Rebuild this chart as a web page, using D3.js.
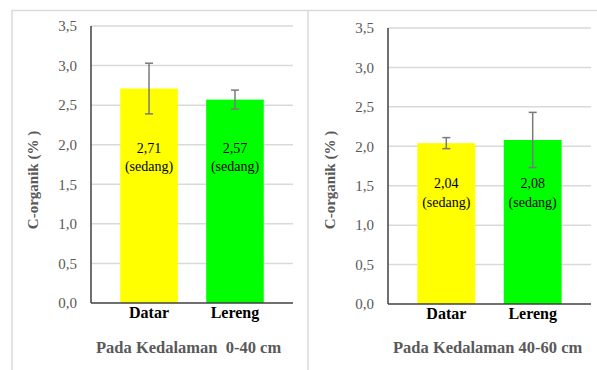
<!DOCTYPE html>
<html>
<head>
<meta charset="utf-8">
<script src="https://cdn.jsdelivr.net/npm/d3@7"></script>
<style>
  body { margin: 0; background: #fff; }
  svg { display: block; }
  svg text { font-family: "Liberation Serif", "Times New Roman", serif; }
</style>
</head>
<body>
<svg width="597" height="370"></svg>
<script>
// data
const categories = ["Datar", "Lereng"];
const values0to40 = [2.71, 2.57];
const errors0to40 = [0.32, 0.12];
const values40to60 = [2.04, 2.08];
const errors40to60 = [0.07, 0.35];
const classes = ["sedang", "sedang"];
const barColors = ["#ffff00", "#00ff00"];
const yTicks = [0, 0.5, 1, 1.5, 2, 2.5, 3, 3.5];
const yTitle = "C-organik (% )";
const panelTitles = ["Pada Kedalaman  0-40 cm", "Pada Kedalaman 40-60 cm"];

const svg = d3.select("svg");
const fmt = d => d3.format(".1f")(d).replace(".", ",");
const fmt2 = d => d3.format(".2f")(d).replace(".", ",");

// panel frame lines
svg.append("path")
  .attr("d", "M12,370V10.5H597M308,10.5V370")
  .attr("fill", "none")
  .attr("stroke", "#dadada")
  .attr("stroke-width", 1.5);

const panels = [
  { x0: 91, x1: 293, top: 26, bottom: 303, values: values0to40, errors: errors0to40, title: panelTitles[0], labelAt: 1.96, off: 0 },
  { x0: 388, x1: 591, top: 28, bottom: 304, values: values40to60, errors: errors40to60, title: panelTitles[1], labelAt: 1.53, off: 297 }
];

panels.forEach(p => {
  const g = svg.append("g");

  const x = d3.scaleBand()
    .domain(categories)
    .range([p.x0, p.x1])
    .paddingInner(0.33)
    .paddingOuter(0.34);

  const y = d3.scaleLinear()
    .domain([0, 3.5])
    .range([p.bottom, p.top]);

  // gridlines
  g.append("g")
    .selectAll("line")
    .data(yTicks.filter(d => d > 0))
    .join("line")
    .attr("x1", p.x0).attr("x2", p.x1)
    .attr("y1", d => y(d)).attr("y2", d => y(d))
    .attr("stroke", "#d9d9d9")
    .attr("stroke-width", 1.5);

  // y axis
  const yAxis = g.append("g")
    .attr("transform", `translate(${p.x0},0)`)
    .call(d3.axisLeft(y).tickValues(yTicks).tickFormat(fmt).tickSize(0).tickPadding(14));
  yAxis.select(".domain").remove();
  yAxis.selectAll("text")
    .attr("fill", "#595959")
    .style("font-size", "15px");

  // bars
  g.append("g")
    .selectAll("rect")
    .data(p.values)
    .join("rect")
    .attr("x", (d, i) => x(categories[i]))
    .attr("y", d => y(d))
    .attr("width", x.bandwidth())
    .attr("height", d => y(0) - y(d))
    .attr("fill", (d, i) => barColors[i]);

  // error bars
  const eb = g.append("g")
    .attr("stroke", "#7a7a7a")
    .attr("stroke-width", 1.5)
    .selectAll("g")
    .data(p.values)
    .join("g");
  const cx = i => x(categories[i]) + x.bandwidth() / 2;
  eb.append("line")
    .attr("x1", (d, i) => cx(i)).attr("x2", (d, i) => cx(i))
    .attr("y1", (d, i) => y(d + p.errors[i]))
    .attr("y2", (d, i) => y(d - p.errors[i]));
  eb.append("line")
    .attr("x1", (d, i) => cx(i) - 4).attr("x2", (d, i) => cx(i) + 4)
    .attr("y1", (d, i) => y(d + p.errors[i])).attr("y2", (d, i) => y(d + p.errors[i]));
  eb.append("line")
    .attr("x1", (d, i) => cx(i) - 4).attr("x2", (d, i) => cx(i) + 4)
    .attr("y1", (d, i) => y(d - p.errors[i])).attr("y2", (d, i) => y(d - p.errors[i]));

  // axis lines
  g.append("line")
    .attr("x1", p.x0).attr("x2", p.x0)
    .attr("y1", y(3.5)).attr("y2", y(0))
    .attr("stroke", "#404040").attr("stroke-width", 1.5);
  g.append("line")
    .attr("x1", p.x0).attr("x2", p.x1)
    .attr("y1", y(0)).attr("y2", y(0))
    .attr("stroke", "#404040").attr("stroke-width", 1.5);

  // value labels inside bars
  const lab = g.append("g")
    .selectAll("text")
    .data(p.values)
    .join("text")
    .attr("text-anchor", "middle")
    .attr("fill", "#000")
    .style("font-size", "14px");
  lab.append("tspan")
    .attr("x", (d, i) => cx(i))
    .attr("y", y(p.labelAt) + 5)
    .text(d => fmt2(d));
  lab.append("tspan")
    .attr("x", (d, i) => cx(i))
    .attr("dy", 18.5)
    .text((d, i) => `(${classes[i]})`);

  // category axis
  const xAxis = g.append("g")
    .attr("transform", `translate(0,${p.bottom})`)
    .call(d3.axisBottom(x).tickSize(0).tickPadding(4));
  xAxis.select(".domain").remove();
  xAxis.selectAll("text")
    .attr("fill", "#000")
    .style("font-size", "16px")
    .style("font-weight", "bold");

  // axis titles
  g.append("text")
    .attr("x", p.off + 96)
    .attr("y", 353)
    .attr("fill", "#595959")
    .style("font-size", "16.5px")
    .style("font-weight", "bold")
    .style("white-space", "pre")
    .text(p.title);

  g.append("text")
    .attr("transform", `translate(${p.off + 38},180) rotate(-90)`)
    .attr("text-anchor", "middle")
    .attr("fill", "#595959")
    .style("font-size", "15px")
    .style("font-weight", "bold")
    .text(yTitle);
});
</script>
</body>
</html>
